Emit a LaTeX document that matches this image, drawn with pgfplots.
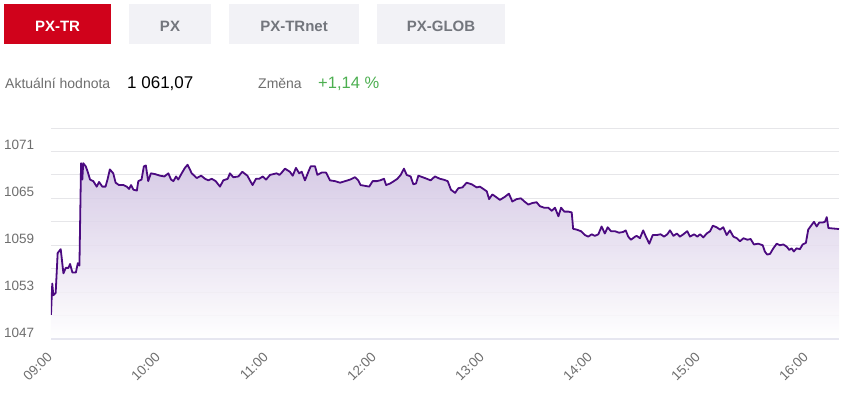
\documentclass[border=0pt]{standalone}
\usepackage{pgfplots}
\pgfplotsset{compat=1.18}
\usepackage{pgfplotstable}
\usepackage{fontspec}
\setmainfont{Liberation Sans}
\definecolor{linecol}{RGB}{75,10,128}
\definecolor{fillcol}{RGB}{208,194,226}
\definecolor{gridcol}{RGB}{230,230,233}
\definecolor{tabred}{RGB}{208,2,27}
\definecolor{tabgray}{RGB}{242,242,246}
\definecolor{tabtext}{RGB}{115,118,125}
\definecolor{labgray}{RGB}{110,110,110}
\definecolor{chgreen}{RGB}{76,175,80}
\definecolor{basecol}{RGB}{230,230,240}

\pgfplotstableread{
t v
0 1050.1
0.7 1054.1
1.3 1052.6
2.6 1052.9
3.7 1058.0
5.4 1058.5
6.9 1055.4
8.2 1056.1
9.7 1056.1
10.6 1056.6
11.9 1055.5
13.8 1055.5
14.9 1056.7
15.8 1056.4
16.7 1069.5
17.4 1067.4
17.9 1069.5
19.3 1069.1
20.4 1068.4
21.7 1067.4
23.5 1067.2
25.4 1066.5
26.7 1067.1
28.5 1066.5
30.3 1066.5
31.5 1067.5
32.7 1068.7
34.6 1068.2
35.9 1067.0
37.8 1066.7
40.2 1066.7
42.1 1066.5
43.4 1066.2
44.5 1066.7
45.8 1066.1
47.7 1066.0
48.5 1067.2
50.3 1067.4
51.6 1069.1
52.7 1069.2
54.0 1067.2
55.5 1068.2
57.8 1068.1
60.6 1067.9
63.0 1067.8
65.2 1068.2
66.7 1067.4
68.0 1067.2
69.5 1067.8
70.7 1067.4
72.6 1068.2
74.4 1068.9
75.9 1069.3
78.2 1068.2
81.0 1067.6
83.4 1067.9
85.6 1067.5
87.4 1067.3
89.3 1067.5
91.5 1067.2
93.9 1066.5
95.7 1067.3
98.2 1067.5
99.4 1068.2
101.3 1067.7
104.1 1067.8
106.3 1068.4
109.1 1067.9
110.5 1067.3
112.0 1066.7
113.9 1067.5
115.7 1067.5
117.6 1067.8
119.5 1067.4
121.7 1068.0
123.5 1068.1
125.4 1068.2
126.9 1068.0
128.2 1068.3
130.0 1068.8
132.7 1068.4
134.3 1067.9
136.1 1068.9
137.9 1068.2
139.3 1068.4
141.1 1067.3
143.0 1068.4
144.3 1069.1
146.7 1069.1
148.0 1068.0
150.4 1068.3
152.8 1068.3
155.0 1067.3
157.8 1067.2
160.6 1067.0
163.4 1067.2
166.2 1067.4
168.9 1067.7
170.7 1067.3
172.0 1066.7
174.4 1066.6
176.8 1066.5
178.7 1067.2
181.0 1067.2
182.8 1067.3
185.0 1067.5
186.2 1066.7
188.4 1066.9
190.5 1067.2
192.4 1067.5
194.3 1068.0
196.1 1068.8
197.6 1068.0
199.8 1067.8
201.3 1066.8
202.8 1066.9
204.1 1067.9
206.5 1067.7
208.8 1067.5
210.9 1067.3
213.3 1067.8
216.1 1067.5
218.0 1067.4
220.4 1067.2
222.2 1066.1
224.5 1065.7
226.3 1066.3
228.6 1066.4
230.9 1067.0
233.7 1066.8
236.5 1066.4
238.3 1066.5
240.2 1066.2
242.1 1065.9
243.4 1064.9
245.2 1065.5
247.1 1065.2
249.4 1064.8
252.2 1065.2
254.4 1065.6
256.3 1064.6
258.7 1064.9
261.1 1065.0
263.0 1064.6
265.2 1064.2
267.4 1064.4
269.8 1064.5
271.6 1064.0
274.0 1063.8
276.3 1063.8
278.2 1063.4
280.0 1063.8
281.9 1062.7
283.4 1063.8
285.2 1063.3
287.4 1063.3
289.3 1063.2
290.1 1061.1
292.0 1061.0
294.4 1060.8
296.7 1060.3
298.5 1060.1
300.4 1060.4
302.2 1060.2
304.1 1060.4
305.9 1061.4
307.7 1060.5
309.3 1061.3
311.1 1060.8
313.3 1060.8
315.6 1060.6
317.9 1060.7
319.3 1060.9
320.7 1060.1
322.2 1059.7
324.5 1060.1
325.4 1060.2
327.2 1059.9
329.0 1060.9
330.5 1060.1
332.4 1059.2
334.3 1060.3
336.5 1060.3
338.7 1060.4
340.6 1060.1
342.4 1060.4
343.9 1060.9
345.8 1060.2
347.7 1060.5
349.4 1060.1
351.3 1060.4
353.5 1060.8
355.0 1060.1
357.3 1060.4
359.1 1060.1
360.6 1060.4
362.4 1060.0
364.3 1060.5
366.2 1060.8
367.7 1061.5
369.8 1061.3
371.7 1061.0
373.5 1061.3
375.4 1060.3
377.2 1060.9
379.1 1060.1
381.0 1059.9
382.8 1059.5
384.7 1059.9
386.9 1059.7
388.7 1059.8
390.5 1059.1
392.9 1059.2
395.4 1059.0
396.6 1058.2
397.9 1057.8
399.5 1057.9
401.3 1058.6
403.2 1059.2
405.0 1059.0
406.9 1059.1
408.8 1058.8
410.2 1058.4
411.5 1058.6
412.7 1058.2
414.2 1058.6
416.1 1058.5
417.6 1059.1
419.4 1059.3
420.7 1061.0
422.6 1061.6
423.9 1062.0
425.4 1061.4
426.8 1061.9
428.7 1061.9
430.0 1062.0
431.0 1062.6
431.9 1061.2
437.8 1061.07
}\pxdata

\begin{document}
\begin{tikzpicture}
\path[use as bounding box, fill=white] (0pt,0pt) rectangle (844pt,-392pt);
% tabs
\fill[tabred] (4pt,-4pt) rectangle (111pt,-43.5pt);
\fill[tabgray] (129pt,-4pt) rectangle (211pt,-43.5pt);
\fill[tabgray] (229pt,-4pt) rectangle (359pt,-43.5pt);
\fill[tabgray] (377pt,-4pt) rectangle (505pt,-43.5pt);
\begin{scope}[every node/.style={anchor=base, inner sep=0pt, font=\fontsize{15}{18}\selectfont\bfseries}]
\node[text=white] at (57.5pt,-31pt) {PX-TR};
\node[text=tabtext] at (170pt,-31pt) {PX};
\node[text=tabtext] at (294pt,-31pt) {PX-TRnet};
\node[text=tabtext] at (441pt,-31pt) {PX-GLOB};
\end{scope}
% value row
\node[anchor=base west, inner sep=0pt, text=labgray, font=\fontsize{14}{17}\selectfont] at (5pt,-88pt) {Aktuální hodnota};
\node[anchor=base west, inner sep=0pt, text=black, font=\fontsize{17}{20}\selectfont] at (127pt,-88pt) {1 061,07};
\node[anchor=base west, inner sep=0pt, text=labgray, font=\fontsize{14}{17}\selectfont] at (258pt,-88pt) {Změna};
\node[anchor=base west, inner sep=0pt, text=chgreen, font=\fontsize{16.5}{20}\selectfont] at (318pt,-88pt) {+1,14 \%};

\begin{axis}[
  at={(51pt,-339pt)}, anchor=south west,
  width=788pt, height=211pt, scale only axis,
  xmin=0, xmax=437.8, ymin=1047, ymax=1074,
  axis line style={draw=none},
  ytick={1047,1053,...,1071},
  minor ytick={1050,1056,...,1074},
  ymajorgrids, yminorgrids,
  major grid style={gridcol, line width=1pt},
  minor grid style={gridcol, line width=1pt},
  xtick={0,60,...,420},
  xticklabels={09:00,10:00,11:00,12:00,13:00,14:00,15:00,16:00},
  major tick length=0pt, minor tick length=0pt,
  tick style={draw=none},
  /pgf/number format/assume math mode=true,
  /pgf/number format/1000 sep={},
  yticklabel style={anchor=base west, xshift=-50.5pt, yshift=2pt, text=labgray, font=\fontsize{13.5}{16}\selectfont},
  xticklabel style={xshift=2pt, yshift=-18.6pt, rotate=45, anchor=base east, inner sep=0pt, text=labgray, font=\fontsize{13.5}{16}\selectfont},
]
\addplot[draw=none, top color=fillcol, bottom color=white, fill opacity=0.85, forget plot] table[x=t, y=v] {\pxdata} \closedcycle;
\addplot[linecol, line width=1.8pt, line join=round, mark=none] table[x=t, y=v] {\pxdata};
\end{axis}
\draw[basecol, line width=2pt] (51pt,-339pt) -- (839pt,-339pt);
\end{tikzpicture}
\end{document}
